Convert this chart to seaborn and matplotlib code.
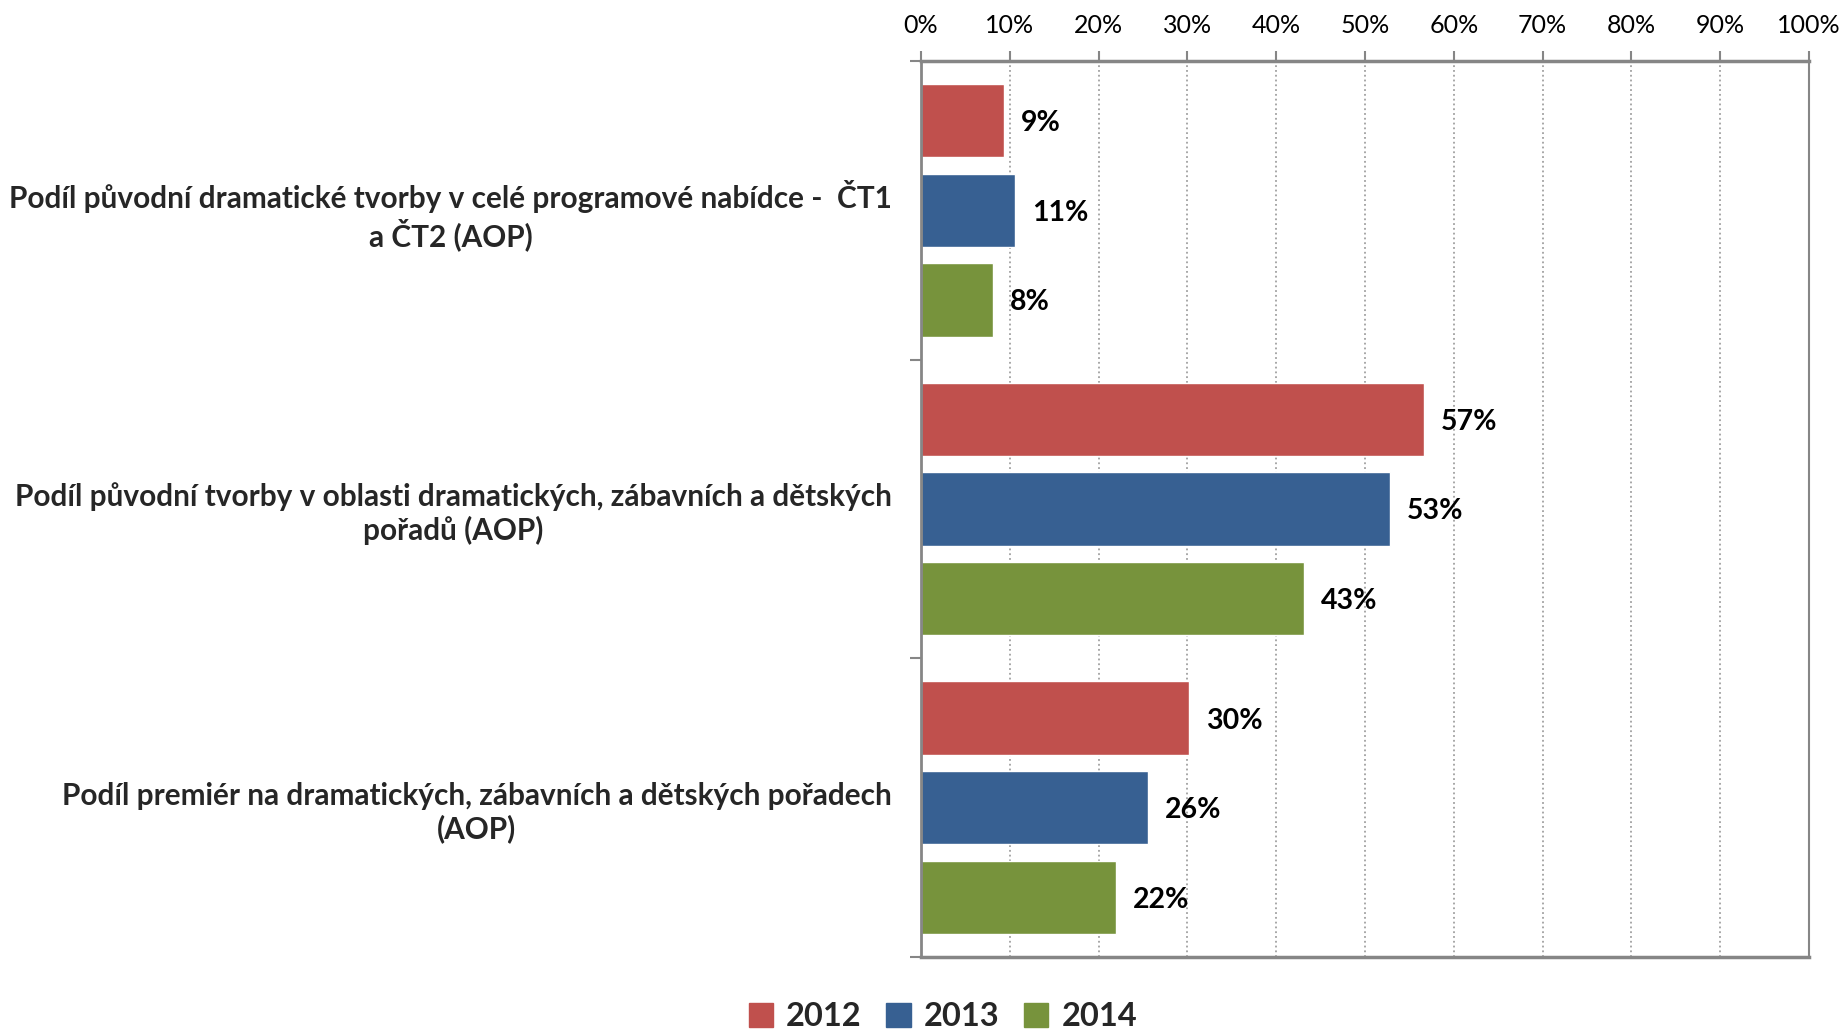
#!/usr/bin/env python3
# plot.py - podíl původní tvorby (AOP), 2012-2014

import pandas as pd
import matplotlib.pyplot as plt
import seaborn as sns
from matplotlib.ticker import FuncFormatter, FixedLocator

# Data
categories = [
    'Podíl původní dramatické tvorby v celé programové nabídce -  ČT1\na ČT2 (AOP)',
    'Podíl původní tvorby v oblasti dramatických, zábavních a dětských\npořadů (AOP)',
    'Podíl premiér na dramatických, zábavních a dětských pořadech\n(AOP)',
]
years = ['2012', '2013', '2014']
values_2012 = [9.4, 56.6, 30.2]
values_2013 = [10.6, 52.8, 25.6]
values_2014 = [8.1, 43.1, 22.0]
colors = ['#C0504D', '#376092', '#77933C']

rows = []
for year, vals in zip(years, [values_2012, values_2013, values_2014]):
    for cat, v in zip(categories, vals):
        rows.append({'category': cat, 'year': year, 'value': v})
df = pd.DataFrame(rows)

sns.set_theme(style='white')
plt.rcParams['font.family'] = ['Lato', 'DejaVu Sans']

fig = plt.figure(figsize=(18.45, 10.29), dpi=100)
ax = fig.add_axes([0.4992, 0.070, 0.4813, 0.8707])

sns.barplot(data=df, x='value', y='category', hue='year', order=categories,
            hue_order=years, palette=colors, saturation=1, width=0.9, gap=0.18,
            orient='h', ax=ax, legend=False)

# Étiquettes de valeurs
for cont in ax.containers:
    txts = ax.bar_label(cont, labels=[f'{b.get_width():.0f}%' for b in cont],
                        padding=12, fontsize=20.5, fontweight='bold', color='black')
    for t in txts:
        t.set_va('center_baseline')

# Axe X en haut
ax.set_xlim(0, 100)
ax.xaxis.set_major_locator(FixedLocator(range(0, 101, 10)))
ax.xaxis.set_major_formatter(FuncFormatter(lambda x, p: f'{x:.0f}%'))
ax.xaxis.tick_top()
ax.tick_params(axis='x', which='major', top=True, bottom=False, length=7, width=1.5,
               color='#868686', labelsize=18, pad=10, labelcolor='black')
ax.grid(axis='x', linestyle=':', color='#A0A0A0', linewidth=1.3)
ax.set_axisbelow(True)

# Axe Y
ax.set_ylim(2.5, -0.5)
ax.set_yticks([-0.5, 0.5, 1.5, 2.5], minor=True)
ax.tick_params(axis='y', which='minor', left=True, length=8, width=1.5, color='#868686')
ax.tick_params(axis='y', which='major', length=0, pad=21, labelsize=21.4)
for lbl in ax.get_yticklabels():
    lbl.set_fontweight('bold')
    lbl.set_multialignment('center')

ax.set_xlabel('')
ax.set_ylabel('')

for side, lw in [('top', 2.5), ('left', 2.0), ('bottom', 2.5), ('right', 1.5)]:
    ax.spines[side].set_visible(True)
    ax.spines[side].set_color('#868686')
    ax.spines[side].set_linewidth(lw)

# Légende
handles = [plt.Rectangle((0, 0), 1, 1, color=c) for c in colors]
fig.legend(handles, years, loc='center', bbox_to_anchor=(0.511, 0.012), ncol=3,
           frameon=False, prop={'size': 23.5, 'weight': 'bold'}, handlelength=0.75,
           handleheight=0.75, handletextpad=0.4, columnspacing=0.75)

plt.savefig('out.png', dpi=100)
